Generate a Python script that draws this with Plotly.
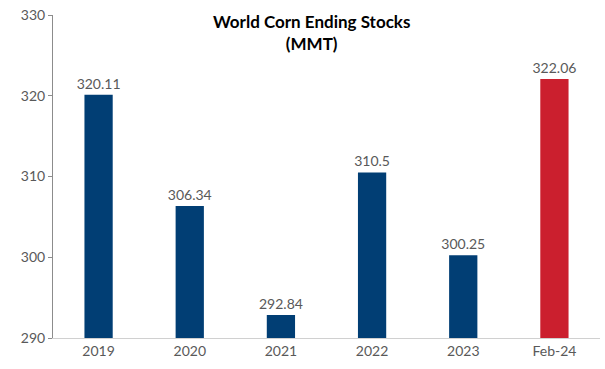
import plotly.graph_objects as go

categories = ["2019", "2020", "2021", "2022", "2023", "Feb-24"]
values = [320.11, 306.34, 292.84, 310.5, 300.25, 322.06]
labels = ["320.11", "306.34", "292.84", "310.5", "300.25", "322.06"]
y_ticks = [290, 300, 310, 320, 330]

colors = ["#013e74"] * 5 + ["#cb1f2e"]
FONT = "Lato, 'Open Sans', sans-serif"

fig = go.Figure(go.Bar(
    x=categories, y=values, marker=dict(color=colors, line=dict(width=0)),
    text=labels, textposition="outside", cliponaxis=False, constraintext="none",
    textfont=dict(family=FONT, size=14, color="#595959"),
))

W, H = 605, 369
L, R, T, B = 53, 5, 15, 31

fig.update_layout(
    width=W, height=H,
    margin=dict(l=L, r=R, t=T, b=B),
    paper_bgcolor="white", plot_bgcolor="white",
    bargap=0.69, showlegend=False,
    font=dict(family=FONT, size=14, color="#595959"),
)
plot_w = W - L - R
plot_h = H - T - B
fig.add_annotation(
    text="<b>World Corn Ending Stocks<br>(MMT)</b>",
    xref="paper", yref="paper", x=(311 - L) / plot_w, y=1 - (33 - T) / plot_h,
    yanchor="middle", xanchor="center", showarrow=False,
    font=dict(family=FONT, size=17, color="#000000"),
)
fig.update_yaxes(
    range=[290, 330], tickvals=y_ticks, showgrid=False, zeroline=False,
    showline=True, linecolor="#8c8c8c", linewidth=1,
    ticks="outside", ticklen=4, tickcolor="#8c8c8c",
    tickfont=dict(family=FONT, size=14, color="#595959"),
)
fig.update_xaxes(
    showgrid=False, showline=True, linecolor="#d0d0d0", linewidth=1,
    ticks="", tickfont=dict(family=FONT, size=14, color="#595959"),
)

fig.write_html("out.html", config={"displayModeBar": False},
               post_script="document.body.style.margin='0';")
